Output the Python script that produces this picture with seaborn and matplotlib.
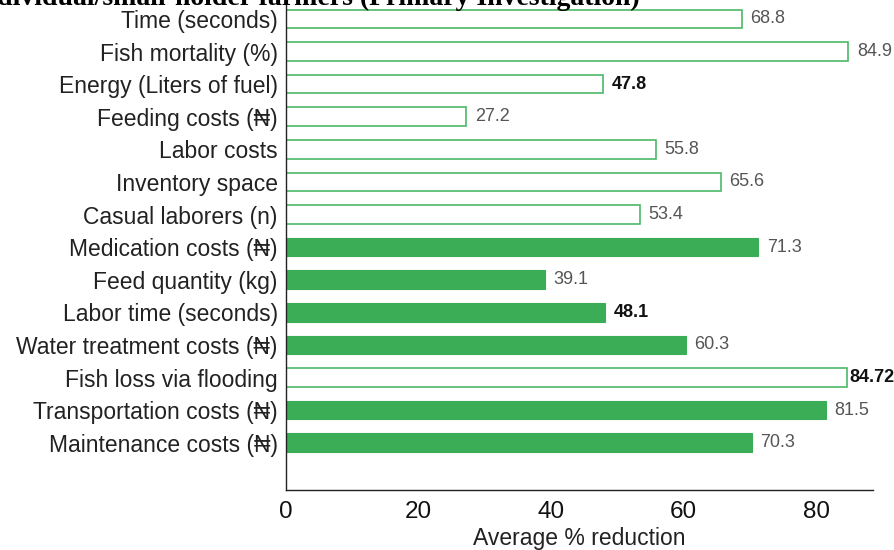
import matplotlib
matplotlib.use("Agg")
import matplotlib.pyplot as plt
import seaborn as sns
import pandas as pd

categories = ["Time (seconds)", "Fish mortality (%)", "Energy (Liters of fuel)",
              "Feeding costs (₦)", "Labor costs", "Inventory space",
              "Casual laborers (n)", "Medication costs (₦)", "Feed quantity (kg)",
              "Labor time (seconds)", "Water treatment costs (₦)",
              "Fish loss via flooding", "Transportation costs (₦)",
              "Maintenance costs (₦)"]
values = [68.8, 84.9, 47.8, 27.2, 55.8, 65.6, 53.4, 71.3, 39.1, 48.1, 60.3, 84.72, 81.5, 70.3]
value_labels = ["68.8", "84.9", "47.8", "27.2", "55.8", "65.6", "53.4", "71.3",
                "39.1", "48.1", "60.3", "84.72", "81.5", "70.3"]
filled = [False, False, False, False, False, False, False, True, True, True, True, False, True, True]
dark_label = [False, False, True, False, False, False, False, False, False, True, False, True, False, False]

title = "individual/small-holder farmers (Primary Investigation)"
xlabel = "Average % reduction"

sns.set_theme(style="white")
plt.rcParams['font.family'] = ['Liberation Sans', 'DejaVu Sans']

df = pd.DataFrame({"category": categories, "value": values})

fig = plt.figure(figsize=(8.95, 5.5), dpi=100)
ax = fig.add_axes([286/895, 1 - 490/550, (873-286)/895, 490/550])

GREEN = "#3cad57"
EDGE = "#4db865"
sns.barplot(data=df, y="category", x="value", orient="h", color=GREEN,
            width=0.57, ax=ax, saturation=1)

for p, f in zip(ax.patches, filled):
    if f:
        p.set_facecolor(GREEN)
        p.set_edgecolor(GREEN)
        p.set_linewidth(0.8)
    else:
        p.set_facecolor("white")
        p.set_edgecolor(EDGE)
        p.set_linewidth(1.2)

for i, (v, lab, d) in enumerate(zip(values, value_labels, dark_label)):
    gap = 0.3 if len(lab) > 4 else 1.3
    ax.text(v + gap, i, lab, va="center", ha="left", fontsize=13,
            color="#111111" if d else "#555555",
            fontweight="bold" if d else "normal", clip_on=False)

ax.set_xlim(0, 88.6)
ax.set_ylim(14.45, -0.58)
ax.set_xticks([0, 20, 40, 60, 80])
ax.set_xticklabels(["0", "20", "40", "60", "80"])
ax.tick_params(axis="x", length=0, pad=8, labelsize=17.5, labelcolor="#111111")
ax.tick_params(axis="y", length=0, pad=6, labelsize=16.5, labelcolor="#222222")
ax.set_ylabel("")
ax.set_xlabel(xlabel, fontsize=16.5, color="#222222", labelpad=3)

for s in ["top", "right"]:
    ax.spines[s].set_visible(False)
for s in ["left", "bottom"]:
    ax.spines[s].set_visible(True)
    ax.spines[s].set_color("#222222")
    ax.spines[s].set_linewidth(1.0)

fig.text(640/895, 1 - 5/550, title, ha="right", va="baseline",
         fontsize=20, fontweight="bold", family=["Liberation Serif", "DejaVu Serif"],
         color="black")

fig.savefig("out.png", dpi=100)
